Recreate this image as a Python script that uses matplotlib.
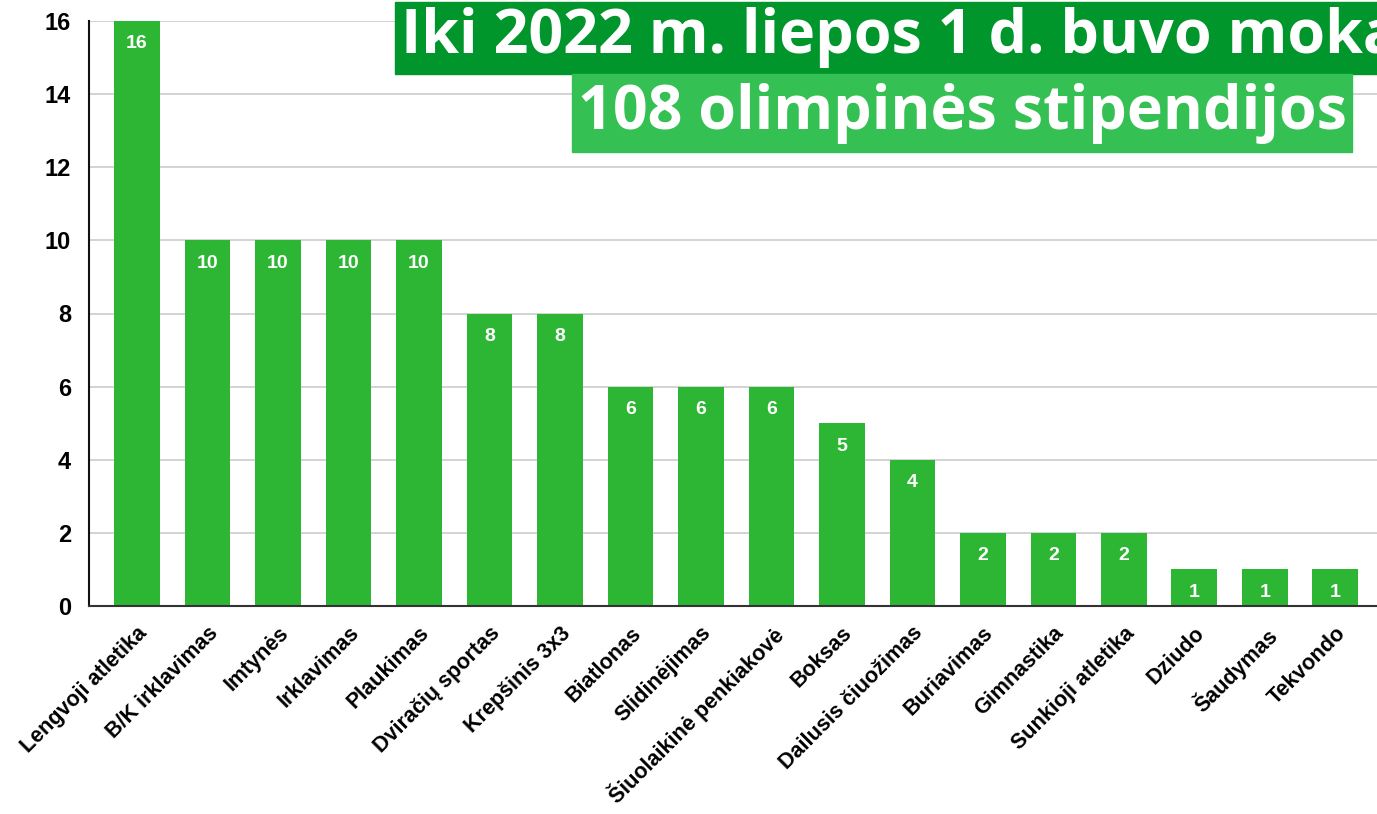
import matplotlib
matplotlib.use("Agg")
import matplotlib.pyplot as plt
from matplotlib.patches import Rectangle

categories = ["Lengvoji atletika", "B/K irklavimas", "Imtynės", "Irklavimas", "Plaukimas",
              "Dviračių sportas", "Krepšinis 3x3", "Biatlonas", "Slidinėjimas",
              "Šiuolaikinė penkiakovė", "Boksas", "Dailusis čiuožimas", "Buriavimas",
              "Gimnastika", "Sunkioji atletika", "Dziudo", "Šaudymas", "Tekvondo"]
values = [16, 10, 10, 10, 10, 8, 8, 6, 6, 6, 5, 4, 2, 2, 2, 1, 1, 1]
yticks = [0, 2, 4, 6, 8, 10, 12, 14, 16]
title1 = "Iki 2022 m. liepos 1 d. buvo mokamos"
title2 = "108 olimpinės stipendijos"

W, H = 1377, 814
fig = plt.figure(figsize=(W / 100, H / 100), dpi=100)
ax = fig.add_axes([89 / W, 1 - 606 / H, 1 - 89 / W, (606 - 21) / H])

bar_color = "#2db633"
x = list(range(len(categories)))
ax.bar(x, values, width=0.65, color=bar_color, zorder=3)
ax.set_xlim(-0.68, 17.59)
ax.set_ylim(0, 16)
ax.set_yticks(yticks)
ax.set_yticklabels([str(t) for t in yticks], fontsize=17, fontweight="bold",
                   family="Liberation Sans")
ax.grid(axis="y", color="#cccccc", linewidth=1.2, zorder=0)
ax.tick_params(axis="y", length=0, pad=13)
ax.tick_params(axis="x", length=0, pad=12)
ax.set_xticks(x)
ax.set_xticklabels(categories, rotation=45, ha="right", va="top",
                   rotation_mode="anchor", fontsize=15.5, fontweight="bold",
                   family="Liberation Sans")
for s in ["top", "right"]:
    ax.spines[s].set_visible(False)
ax.spines["left"].set_color("#111111")
ax.spines["left"].set_linewidth(1.5)
ax.spines["bottom"].set_color("#333333")
ax.spines["bottom"].set_linewidth(1.5)
ax.spines["left"].set_zorder(4)
ax.spines["bottom"].set_zorder(4)

for xi, v in zip(x, values):
    ax.annotate(str(v), (xi, v), xytext=(0, -16.5), textcoords="offset points",
                ha="center", va="center", color="white", fontsize=14,
                fontweight="bold", family="Liberation Sans", zorder=5)

# title boxes
fig.patches.append(Rectangle((395 / W, 1 - 74 / H), 1 - 395 / W, 72 / H,
                             transform=fig.transFigure, color="#00962b", zorder=0))
fig.patches.append(Rectangle((572 / W, 1 - 152 / H), (1352 - 572) / W, 78 / H,
                             transform=fig.transFigure, color="#34c052", zorder=0))
tfont = dict(family="Open Sans", fontweight="bold", color="white")
t2 = fig.text(1347 / W, 1 - 113 / H, title2, ha="right", va="center", fontsize=40, **tfont)
t1 = fig.text(401 / W, 1 - 38 / H, title1, ha="left", va="center", fontsize=40, **tfont)
fig.canvas.draw()
r = fig.canvas.get_renderer()
w2 = t2.get_window_extent(r).width
fs = 40 * (1347 - 578) / w2
t2.set_fontsize(fs)
t1.set_fontsize(fs)

fig.savefig("out.png", dpi=100)
